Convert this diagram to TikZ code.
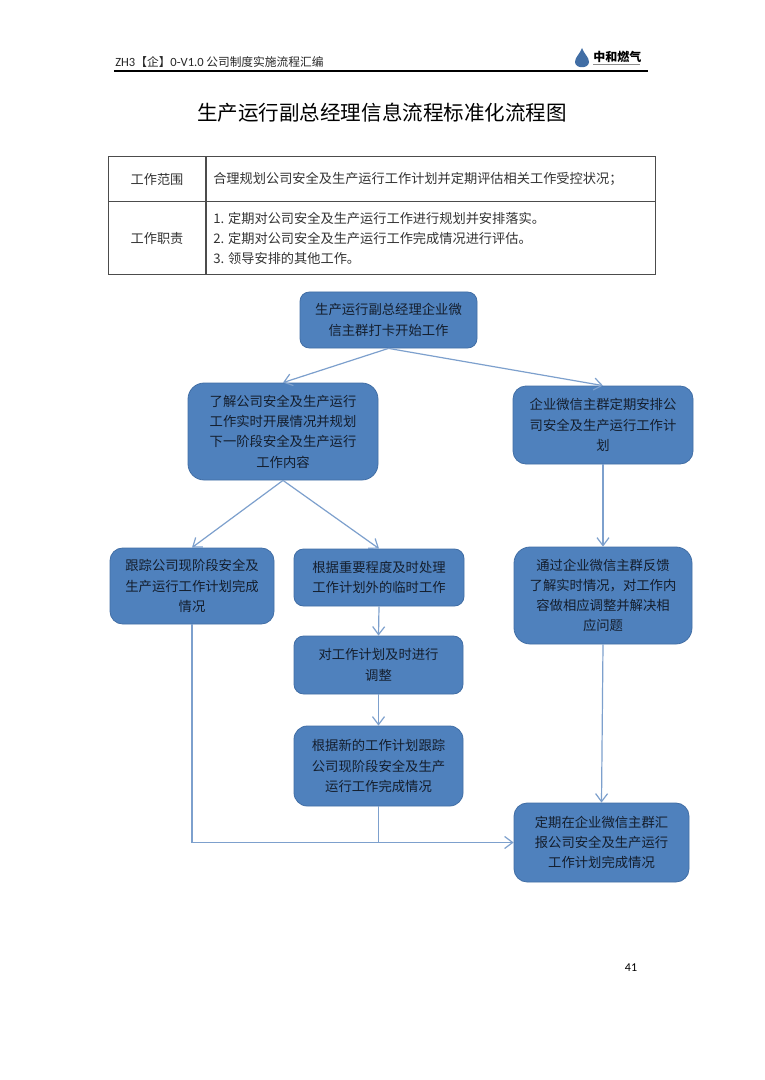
\documentclass[tikz,border=0pt]{standalone}
\usepackage{fontspec}
\setmainfont{Noto Sans CJK SC}
\newfontfamily\latinfont{Carlito}
\usetikzlibrary{arrows.meta}
\definecolor{boxfill}{RGB}{79,129,189}
\definecolor{boxline}{RGB}{65,110,165}
\definecolor{flowline}{RGB}{125,160,205}
\definecolor{boxtext}{RGB}{20,30,45}
\tikzset{
  flowbox/.style={draw=boxline,fill=boxfill,line width=0.6pt,
    align=center,inner sep=0pt,text=boxtext,font=\fontsize{10}{15.2}\selectfont},
  flowarrow/.style={draw=flowline,line width=0.9pt,-{Straight Barb[length=6pt,width=9pt]}},
  flowline/.style={draw=flowline,line width=0.9pt},
  tablecell/.style={inner sep=0pt,text=black!80,align=left,font=\fontsize{9.9}{15}\selectfont}
}
\newcommand{\flowbox}[6]{% name, left, top, right, bottom, text
  \path ({(#2+#4)/2},{(#3+#5)/2}) node (#1) [flowbox,rounded corners={(#5-#3)*0.125pt},minimum width={(#4-#2)*0.75pt},minimum height={(#5-#3)*0.75pt}]{#6};
}

\begin{document}
\begin{tikzpicture}[x=0.75pt,y=-0.75pt]
    \useasboundingbox (0,0) rectangle (764,1080);
    \fill[white] (0,0) rectangle (764,1080);

    % page header
    \path (115,62) node (header) [anchor=west,inner sep=0pt,text=black!85,font=\fontsize{8.8}{10}\selectfont]{{\latinfont\fontsize{9.4}{10}\selectfont ZH3}【企】{\latinfont\fontsize{9.4}{10}\selectfont 0-V1.0} 公司制度实施流程汇编};
    \fill[boxline] (582,48) .. controls (584,54) and (589,57) .. (589,62) .. controls (589,69) and (575,69) .. (575,62) .. controls (575,57) and (580,54) .. (582,48) -- cycle;
    \path (593,56.5) node (logo) [anchor=west,inner sep=0pt,font=\fontsize{9}{10}\bfseries\selectfont]{中和燃气};
    \draw[black!45,line width=1.2pt] (593,64.5) -- (640,64.5);
    \draw[line width=1pt] (114,71) -- (648,71);

    % title
    \path (382,113) node (title) [inner sep=0pt,font=\fontsize{15.4}{18}\selectfont]{生产运行副总经理信息流程标准化流程图};

    % table
    \draw[black!70,line width=0.6pt] (108.5,156.5) rectangle (655.5,274.5);
    \draw[black!70,line width=0.6pt] (108.5,201.5) -- (655.5,201.5);
    \draw[black!70,line width=0.9pt] (206,156.5) -- (206,274.5);
    \path (157,179) node (scope) [tablecell]{工作范围};
    \path (157,238) node (duty) [tablecell]{工作职责};
    \path (213,179) node (scopetext) [tablecell,anchor=west]{合理规划公司安全及生产运行工作计划并定期评估相关工作受控状况；};
    \path (213,238) node (dutytext) [tablecell,anchor=west]{1. 定期对公司安全及生产运行工作进行规划并安排落实。\\2. 定期对公司安全及生产运行工作完成情况进行评估。\\3. 领导安排的其他工作。};

    % flow boxes
    \flowbox{start}{300}{292}{477}{348}{生产运行副总经理企业微\\信主群打卡开始工作}
    \flowbox{learn}{188}{383}{378}{480}{了解公司安全及生产运行\\工作实时开展情况并规划\\下一阶段安全及生产运行\\工作内容}
    \flowbox{plan}{513}{386}{693}{464}{企业微信主群定期安排公\\司安全及生产运行工作计\\划}
    \flowbox{track}{110}{548}{274}{624}{跟踪公司现阶段安全及\\生产运行工作计划完成\\情况}
    \flowbox{temp}{294}{549}{464}{606}{根据重要程度及时处理\\工作计划外的临时工作}
    \flowbox{adjust}{294}{636}{463}{694}{对工作计划及时进行\\调整}
    \flowbox{follow}{294}{726}{463}{806}{根据新的工作计划跟踪\\公司现阶段安全及生产\\运行工作完成情况}
    \flowbox{feedback}{514}{547}{692}{644}{通过企业微信主群反馈\\了解实时情况，对工作内\\容做相应调整并解决相\\应问题}
    \flowbox{report}{514}{803}{689}{882}{定期在企业微信主群汇\\报公司安全及生产运行\\工作计划完成情况}

    % connectors
    \draw[flowarrow] (start.south) -- (learn.north);
    \draw[flowarrow] (start.south) -- (plan.north);
    \draw[flowarrow] (learn.south) -- (track.north);
    \draw[flowarrow] (learn.south) -- (temp.north);
    \draw[flowarrow] (plan.south) -- (feedback.north);
    \draw[flowarrow] (feedback.south) -- (report.north);
    \draw[flowarrow] (temp.south) -- (adjust.north);
    \draw[flowarrow] (adjust.south) -- (follow.north);
    \draw[flowarrow] (track.south) |- (report.west);
    \draw[flowline] (follow.south) -- (follow.south |- report.west);

    % page number
    \path (631,967.5) node (pagenum) [inner sep=0pt,font=\latinfont\fontsize{9}{10}\selectfont]{41};
\end{tikzpicture}
\end{document}
